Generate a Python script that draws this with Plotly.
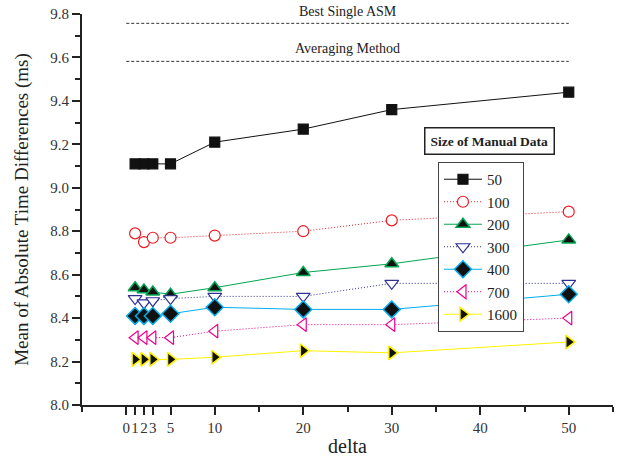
import plotly.graph_objects as go

delta = [1, 2, 3, 5, 10, 20, 30, 50]
series_names = ["50", "100", "200", "300", "400", "700", "1600"]
s50 = [9.11, 9.11, 9.11, 9.11, 9.21, 9.27, 9.36, 9.44]
s100 = [8.79, 8.75, 8.77, 8.77, 8.78, 8.80, 8.85, 8.89]
s200 = [8.54, 8.53, 8.52, 8.51, 8.54, 8.61, 8.65, 8.76]
s300 = [8.49, 8.47, 8.48, 8.49, 8.50, 8.50, 8.56, 8.56]
s400 = [8.41, 8.41, 8.41, 8.42, 8.45, 8.44, 8.44, 8.51]
s700 = [8.31, 8.31, 8.31, 8.31, 8.34, 8.37, 8.37, 8.40]
s1600 = [8.21, 8.21, 8.21, 8.21, 8.22, 8.25, 8.24, 8.29]

ref_x = [0, 50]
best_single_asm = 9.757
averaging_method = 9.582

x_tickvals = [0, 1, 2, 3, 5, 10, 20, 30, 40, 50]
x_ticktext = ["0", "1", "2", "3", "5", "10", "20", "30", "40", "50"]
x_minor = [-5, 15, 25, 35, 45, 55]

FONT = "Liberation Serif, Times New Roman, serif"
DOT = "1px,2px"

styles = [
    dict(color="#111111", dash="solid", symbol="square", fill="#111111", mline="#111111", size=10, lw=1.2),
    dict(color="#ED1C24", dash=DOT, symbol="circle", fill="white", mline="#ED1C24", size=11, lw=1.2),
    dict(color="#00A651", dash="solid", symbol="triangle-up", fill="#111111", mline="#00A651", size=12, lw=1.5),
    dict(color="#2E3192", dash=DOT, symbol="triangle-down", fill="white", mline="#2E3192", size=12, lw=1.2),
    dict(color="#00AEEF", dash="solid", symbol="diamond", fill="#111111", mline="#00AEEF", size=13, lw=1.5),
    dict(color="#EC008C", dash=DOT, symbol="triangle-left", fill="white", mline="#EC008C", size=12, lw=1.2),
    dict(color="#FFF200", dash="solid", symbol="triangle-right", fill="#111111", mline="#FFF200", size=12, lw=1.5),
]
data = [s50, s100, s200, s300, s400, s700, s1600]

fig = go.Figure()

for y_ref in (best_single_asm, averaging_method):
    fig.add_trace(go.Scatter(
        x=ref_x, y=[y_ref, y_ref], mode="lines", showlegend=False,
        line=dict(color="#333333", width=1, dash="3px,2px"), hoverinfo="skip"))

for name, ys, st in zip(series_names, data, styles):
    fig.add_trace(go.Scatter(
        x=delta, y=ys, name=name, mode="lines+markers",
        line=dict(color=st["color"], width=1, dash=st["dash"]),
        marker=dict(symbol=st["symbol"], size=st["size"], color=st["fill"],
                    line=dict(color=st["mline"], width=st["lw"])),
    ))

fig.add_annotation(x=25, y=best_single_asm, text="Best Single ASM", showarrow=False,
                   yanchor="bottom", yshift=2, font=dict(family=FONT, size=14, color="#222"))
fig.add_annotation(x=25, y=averaging_method, text="Averaging Method", showarrow=False,
                   yanchor="bottom", yshift=3, font=dict(family=FONT, size=14, color="#222"))
fig.add_annotation(x=0.768, y=0.676, xref="paper", yref="paper", text="<b>Size of Manual Data</b>",
                   showarrow=False, xanchor="center", yanchor="middle",
                   bordercolor="#222", borderwidth=1.5, borderpad=5, bgcolor="white",
                   font=dict(family=FONT, size=13.5, color="#222"))

fig.update_layout(
    width=619, height=459,
    margin=dict(l=82, r=6, t=14, b=54),
    paper_bgcolor="white", plot_bgcolor="white",
    font=dict(family=FONT, size=15, color="#222"),
    legend=dict(x=0.67, y=0.622, xanchor="left", yanchor="top",
                bgcolor="white", bordercolor="#444", borderwidth=1.2,
                font=dict(family=FONT, size=15, color="#222"),
                tracegroupgap=0, itemwidth=38),
    xaxis=dict(range=[-5, 55], tickmode="array", tickvals=x_tickvals, ticktext=x_ticktext,
               tickangle=0, showgrid=False, zeroline=False, showline=True, linecolor="#222",
               linewidth=2, ticks="outside", ticklen=8, tickwidth=1.5, tickcolor="#222",
               automargin=False,
               tickfont=dict(family=FONT, size=15, color="#333"),
               minor=dict(tickmode="array", tickvals=x_minor, ticks="outside", ticklen=5,
                          tickwidth=1.5, tickcolor="#222", showgrid=False),
               title=dict(text="delta", font=dict(family=FONT, size=20, color="#222"), standoff=4)),
    yaxis=dict(range=[8.0, 9.8], dtick=0.2, tick0=8.0, tickformat=".1f", showgrid=False,
               zeroline=False, showline=True, linecolor="#222", linewidth=2,
               ticks="outside", ticklen=8, tickwidth=1.5, tickcolor="#222",
               automargin=False, ticklabeloverflow="allow",
               tickfont=dict(family=FONT, size=15, color="#333"),
               minor=dict(dtick=0.1, tick0=8.0, ticks="outside", ticklen=5, tickwidth=1.5,
                          tickcolor="#222", showgrid=False),
               title=dict(text="Mean of Absolute Time Differences (ms)",
                          font=dict(family=FONT, size=19, color="#222"), standoff=17)),
)

# remove the browser's default 8px body margin so the figure fills the window
fig.write_html("out.html", config={"displayModeBar": False},
               post_script="document.body.style.margin='0';")
